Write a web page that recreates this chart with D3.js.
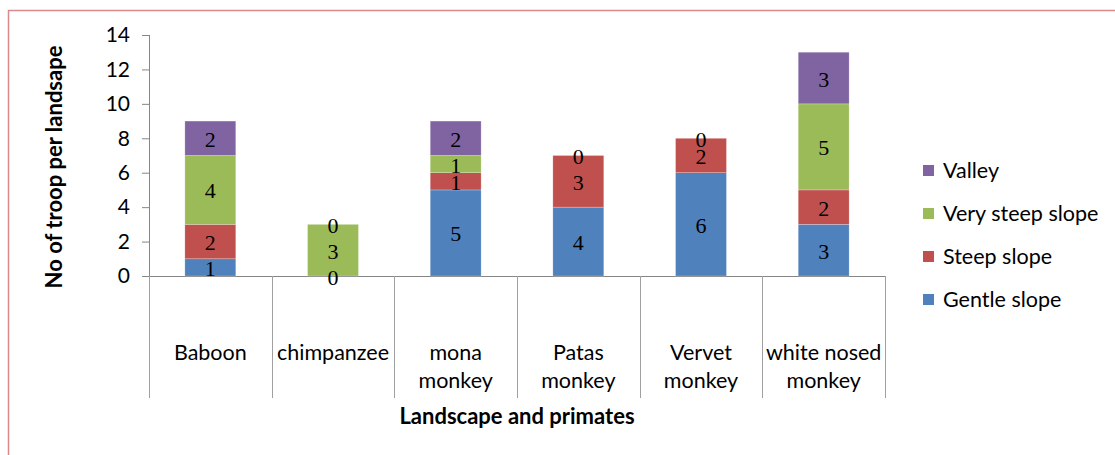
<!DOCTYPE html>
<html>
<head>
<meta charset="utf-8">
<script src="https://cdn.jsdelivr.net/npm/d3@7"></script>
<style>
  body { margin: 0; background: #fff; }
  svg text { font-family: Lato, "Open Sans", sans-serif; fill: #000; }
  .lbl { font-family: "Liberation Serif", serif; }
</style>
</head>
<body>
<script>
// categories and series
var categories = [['Baboon'], ['chimpanzee'], ['mona', 'monkey'], ['Patas', 'monkey'], ['Vervet', 'monkey'], ['white nosed', 'monkey']];
var gentle    = [1, 0, 5, 4, 6, 3];
var steep     = [2, null, 1, 3, 2, 2];
var verySteep = [4, 3, 1, 0, 0, 5];
var valley    = [2, 0, 2, null, null, 3];
var yTicks = [0, 2, 4, 6, 8, 10, 12, 14];

var series = [
  {name: 'Gentle slope', values: gentle, color: '#4f81bd'},
  {name: 'Steep slope', values: steep, color: '#c0504d'},
  {name: 'Very steep slope', values: verySteep, color: '#9bbb59'},
  {name: 'Valley', values: valley, color: '#8064a2'}
];

var W = 1115, H = 455;
var margin = {top: 35, left: 149};
var svg = d3.select('body').append('svg').attr('width', W).attr('height', H);

// outer border (runs off the right and bottom edge)
svg.append('rect').attr('x', 8.5).attr('y', 10.5).attr('width', W).attr('height', H)
  .attr('fill', 'none').attr('stroke', '#d98a8a').attr('stroke-width', 1.5);

var plotW = 885 - margin.left, plotH = 276 - margin.top;
var g = svg.append('g').attr('transform', 'translate(' + margin.left + ',' + margin.top + ')');

var x = d3.scaleBand().domain(d3.range(categories.length)).range([0, plotW]).padding(0);
var y = d3.scaleLinear().domain([0, 14]).range([plotH, 0]);
var barW = x.bandwidth() * 0.415;

// y axis
var yAxis = g.append('g').call(d3.axisLeft(y).tickValues(yTicks).tickSize(7).tickPadding(12));
yAxis.select('.domain').attr('stroke', '#868686').attr('d', 'M0.5,0V' + plotH);
yAxis.selectAll('.tick line').attr('stroke', '#868686');
yAxis.selectAll('text').style('font-size', '21px').attr('fill', '#000');

// x axis line and category separators
g.append('line').attr('x1', -7).attr('x2', plotW).attr('y1', plotH + 0.5).attr('y2', plotH + 0.5)
  .attr('stroke', '#868686');
var seps = d3.range(categories.length + 1).map(function(i){ return i * x.step(); });
g.selectAll('.sep').data(seps).enter().append('line')
  .attr('x1', function(d){ return Math.round(d) + 0.5; })
  .attr('x2', function(d){ return Math.round(d) + 0.5; })
  .attr('y1', plotH).attr('y2', plotH + 122)
  .attr('stroke', '#a0a0a0');

// category labels
var cat = g.selectAll('.cat').data(categories).enter().append('text')
  .attr('text-anchor', 'middle')
  .style('font-size', '21.5px')
  .attr('transform', function(d, i){ return 'translate(' + (x(i) + x.bandwidth() / 2) + ',' + (plotH + 84) + ')'; });
cat.selectAll('tspan').data(function(d){ return d; }).enter().append('tspan')
  .attr('x', 0).attr('dy', function(d, i){ return i ? 28 : 0; })
  .text(function(d){ return d; });

// stacked bars
var stackRows = categories.map(function(c, i){
  var row = {i: i};
  series.forEach(function(s){ row[s.name] = s.values[i] || 0; });
  return row;
});
var stacked = d3.stack().keys(series.map(function(s){ return s.name; }))(stackRows);

stacked.forEach(function(layer, k){
  g.append('g').selectAll('rect').data(layer).enter().append('rect')
    .attr('x', function(d, i){ return x(i) + (x.bandwidth() - barW) / 2; })
    .attr('width', barW)
    .attr('y', function(d){ return y(d[1]); })
    .attr('height', function(d){ return y(d[0]) - y(d[1]); })
    .attr('fill', series[k].color)
    .attr('stroke', '#fff').attr('stroke-opacity', 0.4).attr('stroke-width', 0.6);
});

// data labels on top of every bar
stacked.forEach(function(layer, k){
  var s = series[k];
  g.append('g').selectAll('text').data(layer.filter(function(d, i){ return s.values[i] !== null; }))
    .enter().append('text')
    .attr('class', 'lbl')
    .attr('text-anchor', 'middle')
    .attr('dominant-baseline', 'central')
    .style('font-size', '22px')
    .attr('x', function(d){ return x(d.data.i) + x.bandwidth() / 2; })
    .attr('y', function(d){ return (y(d[0]) + y(d[1])) / 2 + 1; })
    .text(function(d){ return s.values[d.data.i]; });
});

// axis titles
svg.append('text').attr('x', 517).attr('y', 424).attr('text-anchor', 'middle')
  .style('font-size', '22px').style('font-weight', 'bold').text('Landscape and primates');
svg.append('text').attr('transform', 'translate(62,167) rotate(-90)').attr('text-anchor', 'middle')
  .style('font-size', '22px').style('font-weight', 'bold').text('No of troop per landsape');

// legend (reverse order, Valley on top)
var legend = svg.append('g').attr('transform', 'translate(923,170)');
var li = legend.selectAll('g').data(series.slice().reverse()).enter().append('g')
  .attr('transform', function(d, i){ return 'translate(0,' + i * 43 + ')'; });
li.append('rect').attr('x', 0).attr('y', -5).attr('width', 11).attr('height', 11)
  .attr('fill', function(d){ return d.color; });
li.append('text').attr('x', 20).attr('dy', '0.35em').style('font-size', '21.5px')
  .text(function(d){ return d.name; });
</script>
</body>
</html>
